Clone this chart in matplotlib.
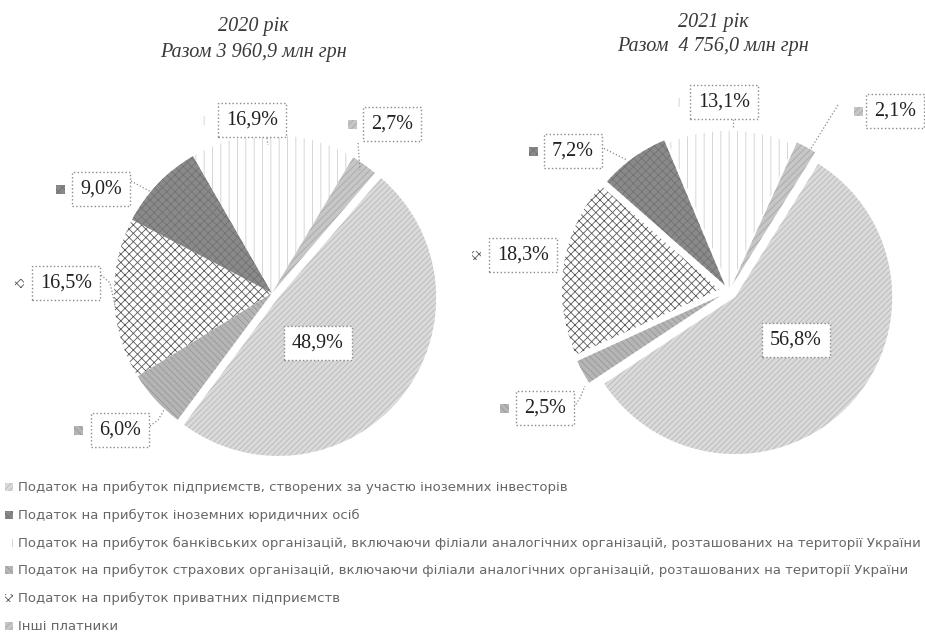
import matplotlib
matplotlib.use("Agg")
import matplotlib.pyplot as plt
from matplotlib.patches import Rectangle

W, H = 925, 633

categories = [
    "Податок на прибуток підприємств, створених за участю іноземних інвесторів",
    "Податок на прибуток іноземних юридичних осіб",
    "Податок на прибуток банківських організацій, включаючи філіали аналогічних організацій, розташованих на території України",
    "Податок на прибуток страхових організацій, включаючи філіали аналогічних організацій, розташованих на території України",
    "Податок на прибуток приватних підприємств",
    "Інші платники",
]
share_2020 = [48.9, 9.0, 16.9, 6.0, 16.5, 2.7]
share_2021 = [56.8, 7.2, 13.1, 2.5, 18.3, 2.1]
titles = [("2020 рік", "Разом 3 960,9 млн грн"), ("2021 рік", "Разом  4 756,0 млн грн")]

# order of slices going clockwise in the original charts
pie_order = [0, 3, 4, 1, 2, 5]

# fill styles per category: face, hatch, hatch colour
styles = [
    ("#dadada", "//////", "#b8b8b8"),
    ("#8a8a8a", "xxxx", "#727272"),
    ("#ffffff", "||", "#cfcfcf"),
    ("#b5b5b5", "\\\\\\\\\\", "#979797"),
    ("#ffffff", "xxxx", "#5a5a5a"),
    ("#c6c6c6", "/////", "#a8a8a8"),
]

plt.rcParams["hatch.linewidth"] = 0.6


def Y(y):
    return H - y


def styled(patch, k):
    fc, hatch, hc = styles[k]
    patch.set_facecolor(fc)
    patch.set_hatch(hatch)
    patch.set_linewidth(0)
    try:
        patch.set_hatchcolor(hc)
    except AttributeError:
        patch.set_edgecolor(hc)


def key_box(ax, x, y, k, size=9):
    r = Rectangle((x - size / 2, Y(y) - size / 2), size, size)
    styled(r, k)
    ax.add_patch(r)


fig = plt.figure(figsize=(W / 100, H / 100), dpi=100)
ax = fig.add_axes([0, 0, 1, 1])

# pies: centre (image px), radius, start angle, explode (fraction of radius)
pies = [
    (share_2020, (272, 293), 158, 49.4, [0.05, 0, 0, 0, 0, 0]),
    (share_2021, (729, 291), 157, 58.0, [0.055, 0.065, 0.065, 0.045, 0.02, 0.04]),
]
for vals, (cx, cy), r, start, expl in pies:
    v = [vals[i] for i in pie_order]
    wedges, _ = ax.pie(v, center=(cx, Y(cy)), radius=r, startangle=start,
                       counterclock=False, explode=[e * r for e in expl])
    for w, i in zip(wedges, pie_order):
        styled(w, i)

# titles
for (t1, t2), x, y1, y2 in zip(titles, [253, 713], [27, 22], [52, 47]):
    ax.text(x, Y(y1), t1, ha="center", va="center", fontsize=14.5,
            family="Liberation Serif", style="italic", color="#3a3a3a")
    ax.text(x, Y(y2), t2, ha="center", va="center", fontsize=14.5,
            family="Liberation Serif", style="italic", color="#3a3a3a")

# data labels: (category, x, y of box centre, key x)
labels_2020 = [(2, 252, 120, 206), (5, 392, 124, 352), (1, 101, 189, 60),
               (4, 66, 283, 19), (3, 120, 430, 78), (0, 318, 343, 276)]
labels_2021 = [(2, 724, 102, 680), (5, 895, 111, 858), (1, 573, 151, 533),
               (4, 523, 255, 476), (3, 545, 408, 504), (0, 796, 340, 753)]

for vals, labs in [(share_2020, labels_2020), (share_2021, labels_2021)]:
    for k, x, y, kx in labs:
        txt = f"{vals[k]:.1f}%".replace(".", ",")
        ax.text(x, Y(y), txt, ha="center", va="center", fontsize=14.5,
                family="Liberation Serif", color="#222222",
                bbox=dict(boxstyle="square,pad=0.38", fc="white", ec="#8a8a8a",
                          ls=":", lw=1.0))
        key_box(ax, kx, y, k, size=9)

# leader lines (image px)
leaders = [
    [(267, 138), (268, 145)],
    [(358, 143), (360, 170)],
    [(131, 181), (153, 193)],
    [(101, 275), (110, 283), (115, 305)],
    [(150, 426), (158, 420), (164, 410)],
    [(733, 119), (733, 127)],
    [(838, 105), (810, 150)],
    [(601, 147), (627, 160)],
    [(574, 407), (580, 398), (585, 386)],
]
for pts in leaders:
    ax.plot([p[0] for p in pts], [Y(p[1]) for p in pts], ls=":", lw=0.9,
            color="#8a8a8a")

# legend
leg_y = [487, 515, 543, 570, 598, 626]
leg_items = []
for k, (name, y) in enumerate(zip(categories, leg_y)):
    key_box(ax, 9, y, k, size=8)
    leg_items.append(ax.text(18, Y(y), name, ha="left", va="center", fontsize=9,
                             family="DejaVu Sans", color="#666666"))

ax.set_xlim(0, W)
ax.set_ylim(0, H)
ax.set_aspect("equal")
ax.axis("off")

# fit legend font so the longest line spans the same width as in the original
fig.canvas.draw()
rend = fig.canvas.get_renderer()
wid = leg_items[2].get_window_extent(rend).width
for t in leg_items:
    t.set_fontsize(9 * 900 / wid)

fig.savefig("out.png", dpi=100)
